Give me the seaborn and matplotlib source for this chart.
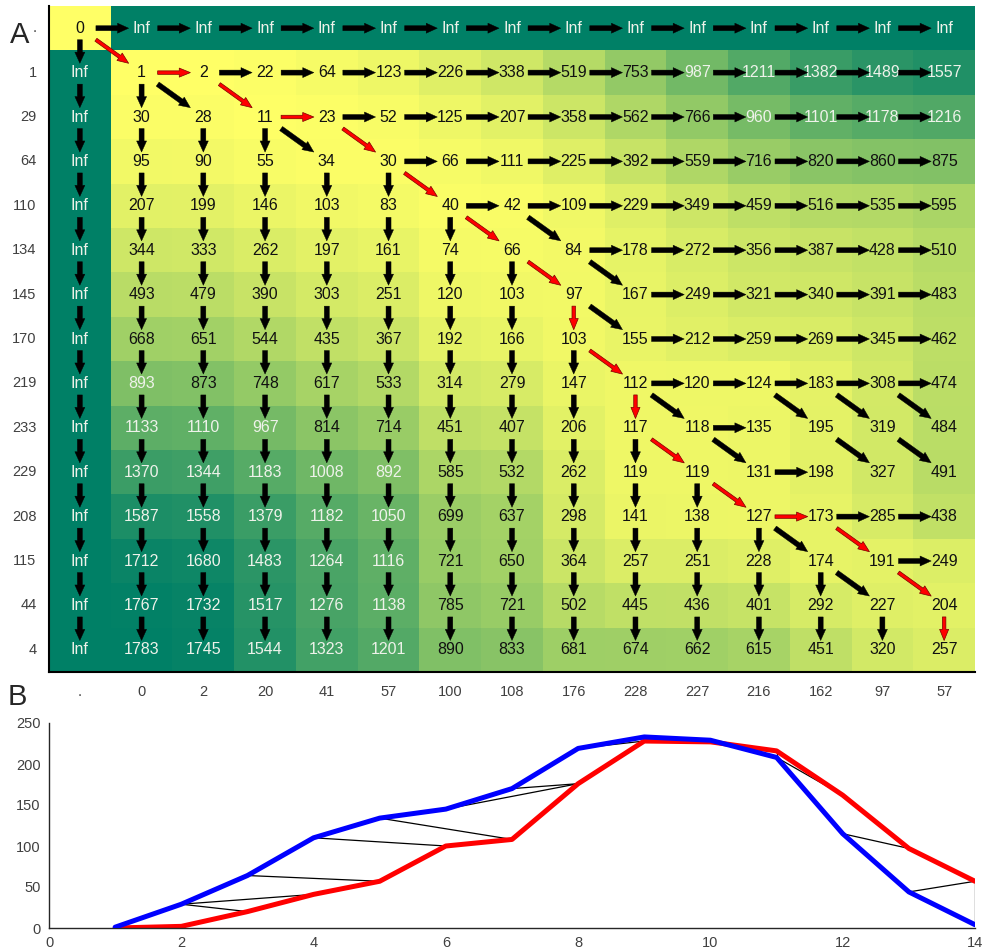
import numpy as np
import pandas as pd
import matplotlib
matplotlib.use("Agg")
import matplotlib.pyplot as plt
import seaborn as sns
from matplotlib.patches import FancyArrowPatch

# Two sequences aligned with dynamic time warping
series_a = [1, 29, 64, 110, 134, 145, 170, 219, 233, 229, 208, 115, 44, 4]      # rows (blue)
series_b = [0, 2, 20, 41, 57, 100, 108, 176, 228, 227, 216, 162, 97, 57]        # columns (red)

# Accumulated cost (rows follow series_a, columns follow series_b)
cost_rows = [
    [1, 2, 22, 64, 123, 226, 338, 519, 753, 987, 1211, 1382, 1489, 1557],
    [30, 28, 11, 23, 52, 125, 207, 358, 562, 766, 960, 1101, 1178, 1216],
    [95, 90, 55, 34, 30, 66, 111, 225, 392, 559, 716, 820, 860, 875],
    [207, 199, 146, 103, 83, 40, 42, 109, 229, 349, 459, 516, 535, 595],
    [344, 333, 262, 197, 161, 74, 66, 84, 178, 272, 356, 387, 428, 510],
    [493, 479, 390, 303, 251, 120, 103, 97, 167, 249, 321, 340, 391, 483],
    [668, 651, 544, 435, 367, 192, 166, 103, 155, 212, 259, 269, 345, 462],
    [893, 873, 748, 617, 533, 314, 279, 147, 112, 120, 124, 183, 308, 474],
    [1133, 1110, 967, 814, 714, 451, 407, 206, 117, 118, 135, 195, 319, 484],
    [1370, 1344, 1183, 1008, 892, 585, 532, 262, 119, 119, 131, 198, 327, 491],
    [1587, 1558, 1379, 1182, 1050, 699, 637, 298, 141, 138, 127, 173, 285, 438],
    [1712, 1680, 1483, 1264, 1116, 721, 650, 364, 257, 251, 228, 174, 191, 249],
    [1767, 1732, 1517, 1276, 1138, 785, 721, 502, 445, 436, 401, 292, 227, 204],
    [1783, 1745, 1544, 1323, 1201, 890, 833, 681, 674, 662, 615, 451, 320, 257],
]

# Back-pointers: source cells (row, col) of each move in the padded matrix
right_moves = ([(0, c) for c in range(0, 14)] + [(1, c) for c in range(1, 14)] +
               [(2, c) for c in range(3, 14)] + [(3, c) for c in range(5, 14)] +
               [(4, c) for c in range(6, 14)] + [(5, c) for c in range(8, 14)] +
               [(6, c) for c in range(9, 14)] + [(7, c) for c in range(9, 14)] +
               [(8, c) for c in range(9, 14)] + [(9, 10), (10, 11), (11, 11),
                                                 (11, 12), (11, 13), (12, 13)])
down_moves = ([(r, 0) for r in range(0, 14)] + [(1, 1)] +
              [(2, c) for c in range(1, 4)] + [(3, c) for c in range(1, 6)] +
              [(4, c) for c in range(1, 7)] + [(5, c) for c in range(1, 8)] +
              [(6, c) for c in range(1, 9)] + [(7, c) for c in range(1, 9)] +
              [(8, c) for c in range(1, 10)] + [(9, c) for c in range(1, 10)] +
              [(10, c) for c in range(1, 11)] + [(11, c) for c in range(1, 12)] +
              [(12, c) for c in range(1, 13)] + [(13, c) for c in range(1, 15)])
diag_moves = [(0, 0), (1, 1), (1, 2), (2, 3), (2, 4), (3, 5), (4, 6), (4, 7),
              (5, 7), (5, 8), (6, 8), (7, 8), (8, 9), (8, 11), (8, 12), (8, 13),
              (9, 9), (9, 10), (9, 12), (9, 13), (10, 10), (11, 11), (11, 12),
              (12, 12), (12, 13)]

# Optimal warping path through the padded matrix
path_rows = [0, 1, 1, 2, 2, 3, 4, 5, 6, 7, 8, 9, 10, 11, 11, 12, 13, 14]
path_cols = [0, 1, 2, 3, 4, 5, 6, 7, 8, 8, 9, 9, 10, 11, 12, 13, 14, 14]

row_labels = ["."] + [str(v) for v in series_a]
col_labels = ["."] + [str(v) for v in series_b]

sns.set_style("white")
plt.rcParams["font.family"] = ["Liberation Sans", "DejaVu Sans"]

# Padded accumulated-cost matrix
n = len(series_a) + 1
D = np.full((n, n), np.inf)
D[0, 0] = 0
D[1:, 1:] = np.array(cost_rows, dtype=float)
finite_max = D[np.isfinite(D)].max()
colour_vals = np.where(np.isinf(D), finite_max, D)
labels = np.array([["Inf" if np.isinf(v) else f"{int(v)}" for v in row] for row in D])

fig = plt.figure(figsize=(9.82, 9.52), dpi=100)
W, H = 982, 952

# ---- Panel A: cost matrix heat map --------------------------------------
ax = fig.add_axes([49 / W, 1 - 672 / H, 926 / W, 666 / H])
df = pd.DataFrame(colour_vals, index=row_labels, columns=col_labels)
sns.heatmap(df, ax=ax, cmap="summer_r", vmin=0, vmax=finite_max, cbar=False,
            annot=labels, fmt="", annot_kws=dict(fontsize=11.5),
            xticklabels=col_labels, yticklabels=row_labels)
for txt, v in zip(ax.texts, D.flat):
    txt.set_color("#eef2ea" if v > finite_max / 2 else "#111111")

ax.tick_params(axis="both", length=0, pad=9, labelsize=10.5, labelcolor="#404040")
ax.set_yticklabels(row_labels, rotation=0)
ax.set_xticklabels(col_labels, rotation=0)
for side in ("left", "bottom"):
    ax.spines[side].set_visible(True)
    ax.spines[side].set_color("black")
    ax.spines[side].set_linewidth(1.5)

path_steps = set(zip(zip(path_rows[:-1], path_cols[:-1]),
                     zip(path_rows[1:], path_cols[1:])))


def draw_move(r, c, dr, dc):
    r2, c2 = r + dr, c + dc
    on_path = ((r, c), (r2, c2)) in path_steps
    s0, s1 = 0.26, 0.79
    start = (c + 0.5 + s0 * dc, r + 0.5 + s0 * dr)
    end = (c + 0.5 + s1 * dc, r + 0.5 + s1 * dr)
    if on_path:
        style = "simple,head_length=0.8,head_width=0.65,tail_width=0.25"
        patch = FancyArrowPatch(start, end, arrowstyle=style, mutation_scale=10,
                                facecolor="#ff0000", edgecolor="#7a0000",
                                linewidth=0.5, shrinkA=0, shrinkB=0, zorder=4)
    else:
        style = "simple,head_length=0.8,head_width=0.72,tail_width=0.36"
        patch = FancyArrowPatch(start, end, arrowstyle=style, mutation_scale=10,
                                facecolor="black", edgecolor="black",
                                linewidth=0.3, shrinkA=0, shrinkB=0, zorder=3)
    ax.add_patch(patch)


for r, c in right_moves:
    draw_move(r, c, 0, 1)
for r, c in down_moves:
    draw_move(r, c, 1, 0)
for r, c in diag_moves:
    draw_move(r, c, 1, 1)

# ---- Panel B: the two sequences with their matched pairs ---------------
ax2 = fig.add_axes([49 / W, 1 - 928 / H, 926 / W, 205 / H])
idx = np.arange(1, len(series_a) + 1)
for r, c in zip(path_rows[1:], path_cols[1:]):
    ax2.plot([r, c], [series_a[r - 1], series_b[c - 1]], color="black",
             lw=0.9, zorder=1)
sns.lineplot(x=idx, y=series_b, ax=ax2, color="#ff0000", lw=3.6, zorder=2)
sns.lineplot(x=idx, y=series_a, ax=ax2, color="#0000ff", lw=3.6, zorder=3)
ax2.set_xlim(0, 14)
ax2.set_ylim(0, 250)
ax2.set_xticks(range(0, 15, 2))
ax2.set_yticks(range(0, 251, 50))
ax2.tick_params(direction="in", length=8, width=1, color="#262626",
                labelsize=10.5, labelcolor="#404040", pad=6)
sns.despine(ax=ax2)
for side in ("left", "bottom"):
    ax2.spines[side].set_color("#262626")
    ax2.spines[side].set_linewidth(1.0)

fig.text(0.010, 0.963, "A", fontsize=21, va="center", ha="left")
fig.text(0.008, 0.268, "B", fontsize=21, va="center", ha="left")

fig.savefig("out.png", dpi=100)
